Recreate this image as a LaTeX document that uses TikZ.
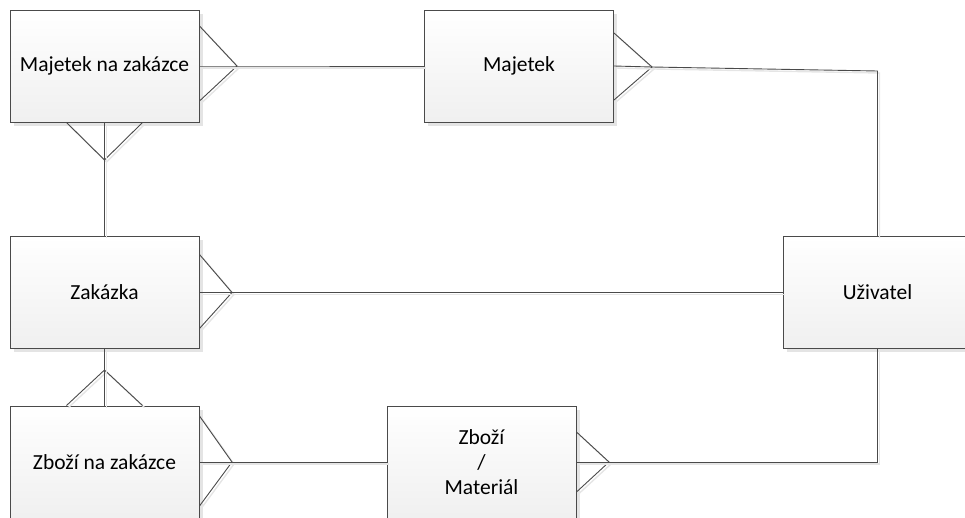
\documentclass[tikz,border=0pt]{standalone}
\usepackage{fontspec}
\setmainfont{Carlito}
\usetikzlibrary{calc}
\definecolor{edge}{HTML}{4A4A4A}
\definecolor{shade}{HTML}{E4E4E4}
\tikzset{
  entity/.style={draw=edge, line width=1pt, top color=white, bottom color=black!6,
    minimum width=189pt, minimum height=112pt, inner sep=0pt, align=center,
    font=\fontsize{21.5}{25}\selectfont,
    preaction={fill=shade, draw=none, transform canvas={shift={(3.5pt,-3.5pt)}}}},
  conn/.style={draw=edge, line width=0.9pt,
    preaction={draw=black!10, line width=1.4pt, transform canvas={shift={(2pt,-2pt)}}}},
}
\begin{document}
\begin{tikzpicture}[x=1pt,y=-1pt]
\useasboundingbox (0,0) rectangle (965,517);

% entities
\node[entity] (mz)  at (104.5,66)  {Majetek na zakázce};
\node[entity] (maj) at (519,66)    {Majetek};
\node[entity] (zak) at (104.5,292.5) {Zakázka};
\node[entity] (uz)  at (877.5,292.5) {Uživatel};
\node[entity] (zz)  at (104.5,462) {Zboží na zakázce};
\node[entity] (zm)  at (481.5,462) {Zboží\\/\\Materiál};

% crow's-foot tips
\coordinate (tMZr) at (237,66);
\coordinate (tMZb) at (104.5,160);
\coordinate (tMAJ) at (652,67);
\coordinate (tZAK) at (232,292.5);
\coordinate (tZZt) at (104.5,370);
\coordinate (tZZr) at (232,462);
\coordinate (tZM)  at (609,462);
\coordinate (bend1) at (877.5,71);
\coordinate (bend2) at (877.5,462);

% Majetek na zakázce -- Majetek
\draw[conn] ($(mz.east)+(0,-40)$) -- (tMZr) -- ($(mz.east)+(0,35)$);
\draw[conn] (mz.east) -- (tMZr) -- (maj.west);

% Majetek na zakázce -- Zakázka
\draw[conn] ($(mz.south)+(-38,0)$) -- (tMZb) -- ($(mz.south)+(38,0)$);
\draw[conn] (mz.south) -- (tMZb) -- (zak.north);

% Majetek -- Uživatel
\draw[conn] ($(maj.east)+(0,-33)$) -- (tMAJ) -- ($(maj.east)+(0,34)$);
\draw[conn] (maj.east) -- (tMAJ) -- (bend1) -- (uz.north);

% Zakázka -- Uživatel
\draw[conn] ($(zak.east)+(0,-38)$) -- (tZAK) -- ($(zak.east)+(0,36)$);
\draw[conn] (zak.east) -- (tZAK) -- (uz.west);

% Zakázka -- Zboží na zakázce
\draw[conn] ($(zz.north)+(-38,0)$) -- (tZZt) -- ($(zz.north)+(38,0)$);
\draw[conn] (zak.south) -- (tZZt) -- (zz.north);

% Zboží na zakázce -- Zboží / Materiál
\draw[conn] ($(zz.east)+(0,-46)$) -- (tZZr) -- ($(zz.east)+(0,44)$);
\draw[conn] (zz.east) -- (tZZr) -- (zm.west);

% Zboží / Materiál -- Uživatel
\draw[conn] ($(zm.east)+(0,-30)$) -- (tZM) -- ($(zm.east)+(0,30)$);
\draw[conn] (zm.east) -- (tZM) -- (bend2) -- (uz.south);
\end{tikzpicture}
\end{document}
